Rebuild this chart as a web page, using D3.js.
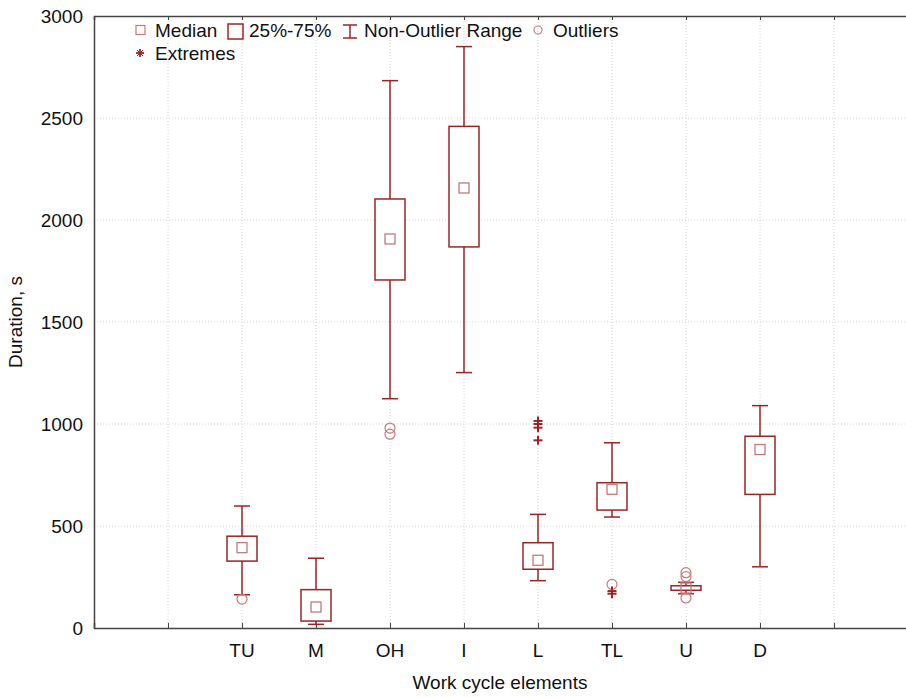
<!DOCTYPE html>
<html>
<head>
<meta charset="utf-8">
<script src="https://cdn.jsdelivr.net/npm/d3@7"></script>
<style>
  body { margin: 0; background: #fff; }
  svg { display: block; }
  text { font-family: "Liberation Sans", Arial, sans-serif; fill: #111; }
</style>
</head>
<body>
<svg width="906" height="697"></svg>
<script>
const width = 906;
const height = 697;

// Categories and box statistics
const categories = ['TU', 'M', 'OH', 'I', 'L', 'TL', 'U', 'D'];
const whiskerLow  = [163, 18, 1124, 1252, 232, 544, 168, 300];
const q1          = [328, 34, 1706, 1868, 288, 578, 185, 655];
const median      = [394, 103, 1907, 2157, 332, 680, 196, 875];
const q3          = [450, 188, 2103, 2459, 418, 712, 207, 940];
const whiskerHigh = [598, 342, 2683, 2850, 557, 908, 224, 1090];
const outliers = [[142], [], [980, 950], [], [], [214], [271, 252, 147], []];
const extremes = [[], [], [], [], [1015, 1000, 982, 920], [181, 168], [], []];
const yTicks = [0, 500, 1000, 1500, 2000, 2500, 3000];

const dark = '#9e2424';
const light = '#c47a7a';

const plotLeft = 94, plotTop = 16, plotBottom = 628, plotRight = 908;

const svg = d3.select('svg');

// x positions: 11 slots, ticks at 1..10, categories at 2..9
const xScale = d3.scaleLinear().domain([0, 11]).range([plotLeft, plotRight]);
const yScale = d3.scaleLinear().domain([0, 3000]).range([plotBottom, plotTop]);
const xPos = i => xScale(i + 2);
const xTicks = d3.range(1, 11);

// Grid
svg.append('g')
    .selectAll('line')
    .data(yTicks.slice(1, -1))
    .enter().append('line')
    .attr('x1', plotLeft).attr('x2', plotRight)
    .attr('y1', d => yScale(d)).attr('y2', d => yScale(d))
    .attr('stroke', '#d4d4d4').attr('stroke-dasharray', '1,2');

svg.append('g')
    .selectAll('line')
    .data(xTicks)
    .enter().append('line')
    .attr('x1', d => xScale(d)).attr('x2', d => xScale(d))
    .attr('y1', plotTop).attr('y2', plotBottom)
    .attr('stroke', '#d4d4d4').attr('stroke-dasharray', '1,2');

// Axes
const yAxis = d3.axisLeft(yScale).tickValues(yTicks).tickSize(0).tickPadding(11)
    .tickFormat(d3.format('d'));
svg.append('g')
    .attr('transform', `translate(${plotLeft},0)`)
    .call(yAxis)
    .call(g => g.select('.domain').attr('stroke', '#444').attr('stroke-width', 1.5))
    .call(g => g.selectAll('text').attr('font-size', 19).attr('fill', '#111')
        .attr('font-family', '"Liberation Sans", Arial, sans-serif'));

const xAxis = d3.axisBottom(xScale).tickValues(xTicks).tickSize(-5).tickFormat('');
svg.append('g')
    .attr('transform', `translate(0,${plotBottom})`)
    .call(xAxis)
    .call(g => g.select('.domain').attr('stroke', '#444').attr('stroke-width', 1.5))
    .call(g => g.selectAll('.tick line').attr('stroke', '#444'));

const topAxis = d3.axisTop(xScale).tickValues(xTicks).tickSize(-4).tickFormat('');
svg.append('g')
    .attr('transform', `translate(0,${plotTop})`)
    .call(topAxis)
    .call(g => g.select('.domain').attr('stroke', '#444').attr('stroke-width', 1.5))
    .call(g => g.selectAll('.tick line').attr('stroke', '#444'));

// Category labels
svg.append('g')
    .selectAll('text')
    .data(categories)
    .enter().append('text')
    .attr('x', (d, i) => xPos(i))
    .attr('y', 657)
    .attr('text-anchor', 'middle')
    .attr('font-size', 19)
    .text(d => d);

// Axis titles
svg.append('text')
    .attr('x', 500).attr('y', 689)
    .attr('text-anchor', 'middle')
    .attr('font-size', 19)
    .text('Work cycle elements');

svg.append('text')
    .attr('transform', `translate(22,322) rotate(-90)`)
    .attr('text-anchor', 'middle')
    .attr('font-size', 19)
    .text('Duration, s');

// Boxes
const boxW = 30, capW = 16, medW = 10;
const boxes = svg.append('g').selectAll('g')
    .data(categories)
    .enter().append('g')
    .attr('transform', (d, i) => `translate(${xPos(i)},0)`);

boxes.append('line')
    .attr('y1', (d, i) => yScale(whiskerHigh[i])).attr('y2', (d, i) => yScale(q3[i]))
    .attr('stroke', dark).attr('stroke-width', 1.5);
boxes.append('line')
    .attr('y1', (d, i) => yScale(q1[i])).attr('y2', (d, i) => yScale(whiskerLow[i]))
    .attr('stroke', dark).attr('stroke-width', 1.5);
boxes.append('line')
    .attr('x1', -capW / 2).attr('x2', capW / 2)
    .attr('y1', (d, i) => yScale(whiskerHigh[i])).attr('y2', (d, i) => yScale(whiskerHigh[i]))
    .attr('stroke', dark).attr('stroke-width', 1.5);
boxes.append('line')
    .attr('x1', -capW / 2).attr('x2', capW / 2)
    .attr('y1', (d, i) => yScale(whiskerLow[i])).attr('y2', (d, i) => yScale(whiskerLow[i]))
    .attr('stroke', dark).attr('stroke-width', 1.5);
boxes.append('rect')
    .attr('x', -boxW / 2).attr('width', boxW)
    .attr('y', (d, i) => yScale(q3[i]))
    .attr('height', (d, i) => yScale(q1[i]) - yScale(q3[i]))
    .attr('fill', '#fff').attr('stroke', dark).attr('stroke-width', 1.5);
boxes.append('rect')
    .attr('x', -medW / 2).attr('width', medW)
    .attr('y', (d, i) => yScale(median[i]) - medW / 2).attr('height', medW)
    .attr('fill', 'none').attr('stroke', light).attr('stroke-width', 1.3);

// Outliers and extremes
boxes.each(function (d, i) {
    const g = d3.select(this);
    g.selectAll('circle')
        .data(outliers[i])
        .enter().append('circle')
        .attr('cy', v => yScale(v))
        .attr('r', 5)
        .attr('fill', 'none').attr('stroke', light).attr('stroke-width', 1.2);
    const ex = g.selectAll('.ext')
        .data(extremes[i])
        .enter().append('g')
        .attr('class', 'ext')
        .attr('transform', v => `translate(0,${yScale(v)})`);
    ex.append('line').attr('x1', -4.5).attr('x2', 4.5)
        .attr('stroke', dark).attr('stroke-width', 2);
    ex.append('line').attr('y1', -4.5).attr('y2', 4.5)
        .attr('stroke', dark).attr('stroke-width', 2);
});

// Legend
const legend = svg.append('g').attr('font-size', 19);
const ly1 = 30, ly2 = 53;

legend.append('rect')
    .attr('x', 136).attr('y', ly1 - 4.5).attr('width', 9).attr('height', 9)
    .attr('fill', 'none').attr('stroke', light).attr('stroke-width', 1.2);
legend.append('text').attr('x', 155).attr('y', ly1 + 7).text('Median');

legend.append('rect')
    .attr('x', 228).attr('y', ly1 - 6).attr('width', 15).attr('height', 15)
    .attr('fill', 'none').attr('stroke', dark).attr('stroke-width', 1.5);
legend.append('text').attr('x', 249).attr('y', ly1 + 7).text('25%-75%');

legend.append('line')
    .attr('x1', 350).attr('x2', 350).attr('y1', ly1 - 5).attr('y2', ly1 + 8)
    .attr('stroke', dark).attr('stroke-width', 1.5);
legend.append('line')
    .attr('x1', 343).attr('x2', 357).attr('y1', ly1 - 5).attr('y2', ly1 - 5)
    .attr('stroke', dark).attr('stroke-width', 1.5);
legend.append('line')
    .attr('x1', 343).attr('x2', 357).attr('y1', ly1 + 8).attr('y2', ly1 + 8)
    .attr('stroke', dark).attr('stroke-width', 1.5);
legend.append('text').attr('x', 364).attr('y', ly1 + 7).text('Non-Outlier Range');

legend.append('circle')
    .attr('cx', 538).attr('cy', ly1).attr('r', 4)
    .attr('fill', 'none').attr('stroke', light).attr('stroke-width', 1.2);
legend.append('text').attr('x', 553).attr('y', ly1 + 7).text('Outliers');

const lex = legend.append('g').attr('transform', `translate(140,${ly2})`);
lex.append('line').attr('x1', -4).attr('x2', 4).attr('stroke', dark).attr('stroke-width', 1.8);
lex.append('line').attr('y1', -4).attr('y2', 4).attr('stroke', dark).attr('stroke-width', 1.8);
lex.append('line').attr('x1', -3).attr('x2', 3).attr('y1', -3).attr('y2', 3).attr('stroke', dark).attr('stroke-width', 1);
lex.append('line').attr('x1', -3).attr('x2', 3).attr('y1', 3).attr('y2', -3).attr('stroke', dark).attr('stroke-width', 1);
legend.append('text').attr('x', 155).attr('y', ly2 + 7).text('Extremes');
</script>
</body>
</html>
